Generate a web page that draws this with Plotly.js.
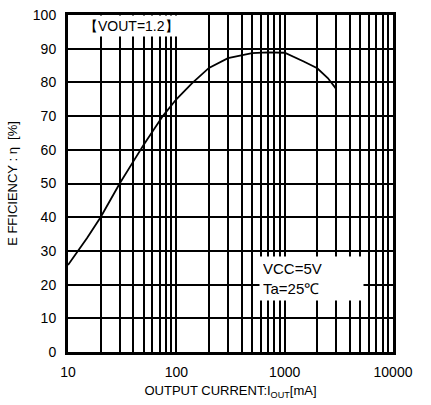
<!DOCTYPE html>
<html>
<head>
<meta charset="utf-8">
<script src="https://cdn.plot.ly/plotly-3.0.1.min.js"></script>
<style>html,body{margin:0;padding:0;background:#fff;}#chart{width:431px;height:405px;}</style>
</head>
<body>
<div id="chart"></div>
<script>
const currentMA = [10, 15, 20, 25, 30, 40, 50, 75, 100, 140, 200, 300, 500, 700, 1000, 1500, 2000, 2500, 3000];
const efficiency = [25.8, 33.8, 40, 45.5, 50, 56.5, 61.5, 70, 75, 79.8, 84.3, 87.2, 88.7, 88.9, 88.8, 86.2, 84.2, 81.3, 78];
const xTickVals = [10, 100, 1000, 10000];
const xTickLabels = ['10', '100', '1000', '10000'];
const xMinorVals = [20,30,40,50,60,70,80,90,200,300,400,500,600,700,800,900,2000,3000,4000,5000,6000,7000,8000,9000];
const yTickVals = [0,10,20,30,40,50,60,70,80,90,100];
const font = 'Liberation Sans, Arial, sans-serif';

const trace = {
  x: currentMA, y: efficiency, type: 'scatter', mode: 'lines',
  line: {color: '#000', width: 1.8, shape: 'linear'},
  hoverinfo: 'skip', showlegend: false
};

const layout = {
  width: 431, height: 405,
  margin: {l: 68, r: 38, t: 15, b: 53},
  paper_bgcolor: '#fff', plot_bgcolor: '#fff',
  font: {family: font, color: '#000', size: 14},
  xaxis: {
    type: 'log', range: [1, 4],
    tickmode: 'array', tickvals: xTickVals, ticktext: xTickLabels,
    showgrid: true, gridcolor: '#000', gridwidth: 2,
    minor: {tickmode: 'array', tickvals: xMinorVals, showgrid: true, gridcolor: '#000', gridwidth: 2, ticks: ''},
    ticks: '', showline: true, linecolor: '#000', linewidth: 3, mirror: true,
    zeroline: false, tickfont: {size: 14, family: font}, ticklabelstandoff: 5,
    title: {text: 'OUTPUT CURRENT:I<sub>OUT</sub>[mA]', font: {size: 13, family: font}, standoff: 8}
  },
  yaxis: {
    range: [0, 100], tickmode: 'array', tickvals: yTickVals,
    showgrid: true, gridcolor: '#000', gridwidth: 2,
    ticks: '', showline: true, linecolor: '#000', linewidth: 3, mirror: true,
    zeroline: false, tickfont: {size: 14, family: font}, ticklabelstandoff: 6,
    title: {text: 'E FFICIENCY : η  [%]', font: {size: 13, family: font}, standoff: 13}
  },
  annotations: [
    {xref: 'paper', yref: 'paper', x: 0.04, y: 0.967, xanchor: 'left', yanchor: 'middle',
     text: '【VOUT=1.2】', showarrow: false, bgcolor: '#fff', borderpad: 2,
     font: {size: 14, family: font}},
    {xref: 'paper', yref: 'paper', x: 0.589, y: 0.15, xanchor: 'left', yanchor: 'bottom',
     text: 'VCC=5V<br>Ta=25℃', align: 'left', showarrow: false, bgcolor: '#fff', borderpad: 3,
     width: 97, font: {size: 15, family: font}}
  ]
};

Plotly.newPlot('chart', [trace], layout, {displayModeBar: false, staticPlot: true});
</script>
</body>
</html>
